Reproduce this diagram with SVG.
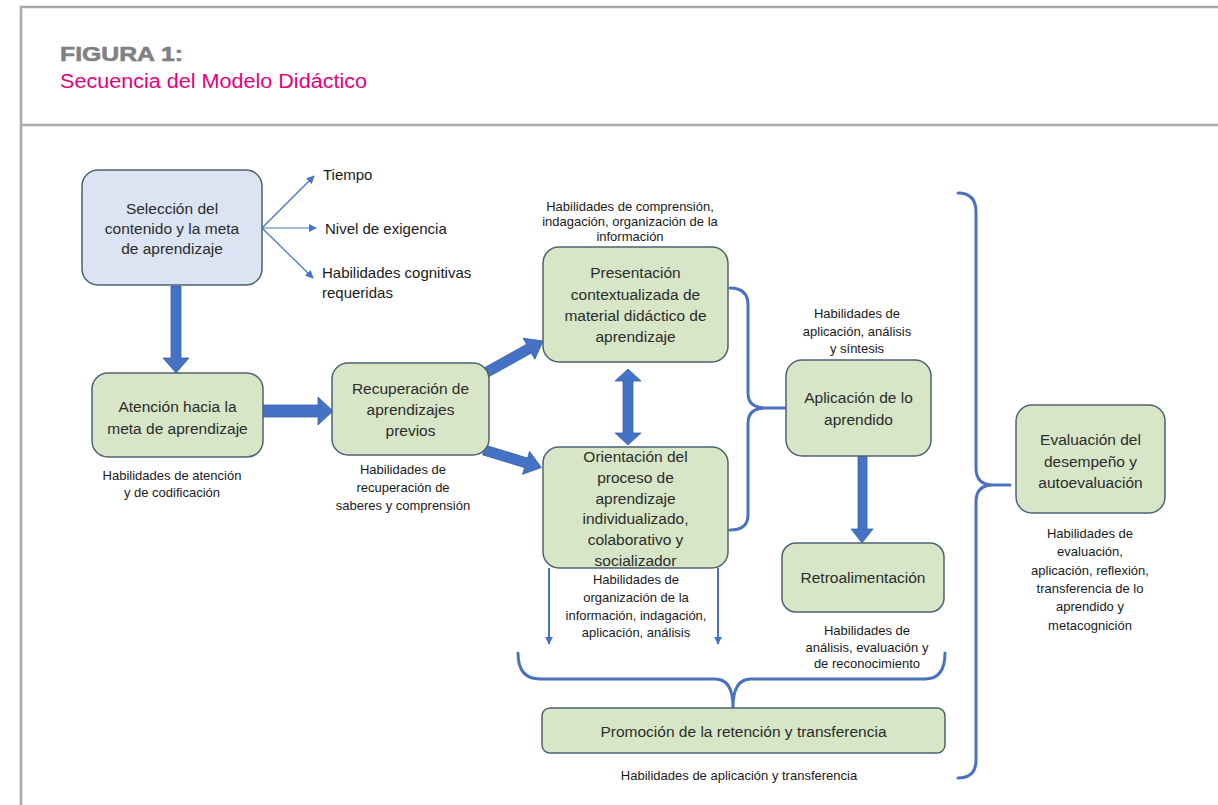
<svg xmlns="http://www.w3.org/2000/svg" width="1218" height="805" viewBox="0 0 1218 805">
<style>
.frame{stroke:#a9a9ab;stroke-width:2.5;fill:none}
.node{fill:#d6e6c6;stroke:#4d6272;stroke-width:1.5}
.nodeb{fill:#dbe4f3;stroke:#4d6272;stroke-width:1.5}
.nt{font-family:"Liberation Sans",Arial,sans-serif;font-size:15.5px;fill:#2c2c2c;text-anchor:middle}
.ann{font-family:"Liberation Sans",Arial,sans-serif;font-size:13px;fill:#1a1a1a;text-anchor:middle}
.lbl{font-family:"Liberation Sans",Arial,sans-serif;font-size:15px;fill:#1a1a1a}
.thick{fill:#4472c4;stroke:#3a62a8;stroke-width:0.8}
.thin{stroke:#4472c4;stroke-width:1.2;fill:none;marker-end:url(#ah)}
.thin2{stroke:#4472c4;stroke-width:2;fill:none;marker-end:url(#ah)}
.brace{stroke:#4a72c0;stroke-width:3;fill:none;stroke-linecap:round}
</style>
<defs>
<marker id="ah" viewBox="0 0 10 10" refX="9" refY="5" markerWidth="8" markerHeight="8" markerUnits="userSpaceOnUse" orient="auto">
<path d="M0,0 L10,5 L0,10 Z" fill="#4472c4"/>
</marker>
</defs>
<rect width="1218" height="805" fill="#ffffff"/>
<g id="frame">
<path class="frame" d="M21,805 L21,7 L1218,7"/>
<path class="frame" d="M21,125 L1218,125"/>
</g>
<g id="header">
<text x="60" y="61" font-family="Liberation Sans,Arial,sans-serif" font-weight="bold" font-size="21" fill="#808085" stroke="#808085" stroke-width="0.6" textLength="123" lengthAdjust="spacingAndGlyphs">FIGURA 1:</text>
<text x="60" y="88" font-family="Liberation Sans,Arial,sans-serif" font-size="19.5" fill="#e5007d" textLength="307" lengthAdjust="spacingAndGlyphs">Secuencia del Modelo Didáctico</text>
</g>
<g id="connectors">
<line class="thin" x1="262" y1="228" x2="314" y2="176"/>
<line class="thin" x1="262" y1="228" x2="316" y2="228"/>
<line class="thin" x1="262" y1="228" x2="313" y2="278"/>
<polygon class="thick" points="171,286 181,286 181,358 189,358 176,373 163,358 171,358"/>
<polygon class="thick" points="263,405 318,405 318,397 333,411 318,425 318,417 263,417"/>
<polygon class="thick" transform="translate(487,372) rotate(-29)" points="0,-5 48,-5 48,-12 64,0 48,12 48,5 0,5"/>
<polygon class="thick" transform="translate(484,450) rotate(17)" points="0,-5 44,-5 44,-12 60,0 44,12 44,5 0,5"/>
<polygon class="thick" points="628,369 641,381 633,381 633,433 641,433 628,445 615,433 623,433 623,381 615,381"/>
<polygon class="thick" points="858,456 867,456 867,529 873,529 862,543 851,529 858,529"/>
<line class="thin2" x1="549" y1="568" x2="549" y2="644"/>
<line class="thin2" x1="718" y1="568" x2="718" y2="644"/>
<path class="brace" d="M730,288 Q748,288 748,305 L748,393 Q748,408 766,408 L786,408 M766,408 Q748,408 748,423 L748,515 Q748,530 730,530"/>
<path class="brace" d="M518,653 Q518,679 540,679 L715,679 Q733,679 733,707 M733,707 Q733,679 751,679 L925,679 Q945,679 945,653"/>
<path class="brace" d="M958,193 Q976,193 976,212 L976,468 Q976,485 993,485 L1010,485 M993,485 Q976,485 976,502 L976,760 Q976,778 958,778"/>
</g>
<g id="n1">
<rect class="nodeb" x="82" y="170" width="180" height="115" rx="16"/>
<text class="nt" x="172" y="214">Selección del</text>
<text class="nt" x="172" y="234">contenido y la meta</text>
<text class="nt" x="172" y="254">de aprendizaje</text>
</g>
<g id="n1-labels">
<text class="lbl" x="323" y="180">Tiempo</text>
<text class="lbl" x="325" y="234">Nivel de exigencia</text>
<text class="lbl" x="322" y="278">Habilidades cognitivas</text>
<text class="lbl" x="322" y="298">requeridas</text>
</g>
<g id="n2">
<rect class="node" x="92" y="373" width="171" height="84" rx="16"/>
<text class="nt" x="177.5" y="412">Atención hacia la</text>
<text class="nt" x="177.5" y="434">meta de aprendizaje</text>
<text class="ann" x="172" y="480">Habilidades de atención</text>
<text class="ann" x="172" y="497">y de codificación</text>
</g>
<g id="n3">
<rect class="node" x="332" y="363" width="157" height="92" rx="16"/>
<text class="nt" x="410.5" y="394">Recuperación de</text>
<text class="nt" x="410.5" y="415">aprendizajes</text>
<text class="nt" x="410.5" y="436">previos</text>
<text class="ann" x="403" y="474">Habilidades de</text>
<text class="ann" x="403" y="492">recuperación de</text>
<text class="ann" x="403" y="510">saberes y comprensión</text>
</g>
<g id="n4">
<text class="ann" x="630" y="211">Habilidades de comprensión,</text>
<text class="ann" x="630" y="226">indagación, organización de la</text>
<text class="ann" x="630" y="241">información</text>
<rect class="node" x="543" y="247" width="185" height="115" rx="16"/>
<text class="nt" x="635.5" y="278">Presentación</text>
<text class="nt" x="635.5" y="300">contextualizada de</text>
<text class="nt" x="635.5" y="321">material didáctico de</text>
<text class="nt" x="635.5" y="342">aprendizaje</text>
</g>
<g id="n5">
<rect class="node" x="543" y="447" width="185" height="121" rx="16"/>
<text class="nt" x="635.5" y="462">Orientación del</text>
<text class="nt" x="635.5" y="483">proceso de</text>
<text class="nt" x="635.5" y="504">aprendizaje</text>
<text class="nt" x="635.5" y="524">individualizado,</text>
<text class="nt" x="635.5" y="545">colaborativo y</text>
<text class="nt" x="635.5" y="566">socializador</text>
<text class="ann" x="636" y="584">Habilidades de</text>
<text class="ann" x="636" y="602">organización de la</text>
<text class="ann" x="636" y="620">información, indagación,</text>
<text class="ann" x="636" y="637">aplicación, análisis</text>
</g>
<g id="n6">
<text class="ann" x="857" y="318">Habilidades de</text>
<text class="ann" x="857" y="336">aplicación, análisis</text>
<text class="ann" x="857" y="353">y síntesis</text>
<rect class="node" x="786" y="360" width="145" height="96" rx="16"/>
<text class="nt" x="858.5" y="403">Aplicación de lo</text>
<text class="nt" x="858.5" y="425">aprendido</text>
</g>
<g id="n7">
<rect class="node" x="782" y="543" width="162" height="69" rx="14"/>
<text class="nt" x="863" y="583">Retroalimentación</text>
<text class="ann" x="867" y="635">Habilidades de</text>
<text class="ann" x="867" y="652">análisis, evaluación y</text>
<text class="ann" x="867" y="668">de reconocimiento</text>
</g>
<g id="n8">
<rect class="node" x="542" y="708" width="403" height="45" rx="8"/>
<text class="nt" x="743.5" y="737">Promoción de la retención y transferencia</text>
<text class="ann" x="739" y="780">Habilidades de aplicación y transferencia</text>
</g>
<g id="n9">
<rect class="node" x="1016" y="405" width="149" height="108" rx="16"/>
<text class="nt" x="1090.5" y="445">Evaluación del</text>
<text class="nt" x="1090.5" y="467">desempeño y</text>
<text class="nt" x="1090.5" y="488">autoevaluación</text>
<text class="ann" x="1090" y="538">Habilidades de</text>
<text class="ann" x="1090" y="556">evaluación,</text>
<text class="ann" x="1090" y="575">aplicación, reflexión,</text>
<text class="ann" x="1090" y="593">transferencia de lo</text>
<text class="ann" x="1090" y="611">aprendido y</text>
<text class="ann" x="1090" y="630">metacognición</text>
</g>
</svg>
